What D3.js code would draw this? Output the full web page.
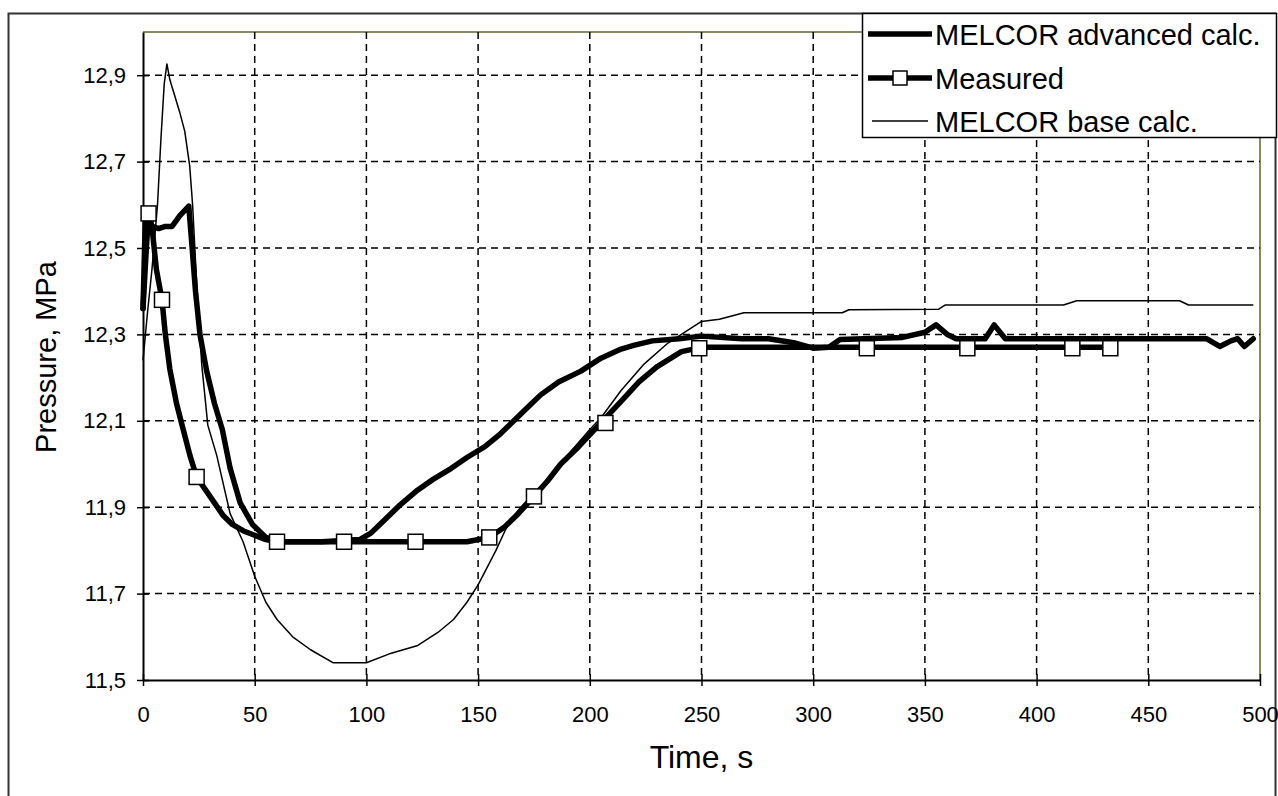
<!DOCTYPE html>
<html>
<head>
<meta charset="utf-8">
<script src="https://cdn.jsdelivr.net/npm/d3@7/dist/d3.min.js"></script>
<style>
    body { margin: 0; background: #ffffff; }
    svg { display: block; }
    text { font-family: "Liberation Sans", Arial, sans-serif; fill: #000; }
</style>
</head>
<body>
<div id="chart"></div>
<script>
// --- data (time in s, pressure in MPa) ---
const timeTicks = [0, 50, 100, 150, 200, 250, 300, 350, 400, 450, 500];
const pressureTicks = [11.5, 11.7, 11.9, 12.1, 12.3, 12.5, 12.7, 12.9];
const seriesNames = ['MELCOR advanced calc.', 'Measured', 'MELCOR base calc.'];

const advancedCalc = [
    [0, 12.36], [1, 12.56], [2.5, 12.57], [4, 12.55], [7, 12.545], [10, 12.55], [13, 12.55],
    [16.5, 12.575], [20.5, 12.597], [22, 12.5], [23.5, 12.4], [25.5, 12.3], [28.5, 12.215],
    [32, 12.14], [35.5, 12.08], [39, 11.99], [43.5, 11.91], [49, 11.86], [55, 11.83],
    [61, 11.82], [80, 11.82], [97, 11.825], [102, 11.84], [108, 11.87], [115, 11.905],
    [123, 11.94], [130, 11.965], [138, 11.99], [145, 12.015], [153, 12.04], [160, 12.07],
    [166, 12.1], [172, 12.13], [178, 12.16], [186, 12.19], [196, 12.215], [205, 12.245],
    [214, 12.266], [220, 12.275], [228, 12.285], [240, 12.29], [250, 12.296], [268, 12.29],
    [280, 12.29], [292, 12.28], [300, 12.268], [307, 12.27], [312, 12.288], [340, 12.293],
    [350, 12.305], [355, 12.322], [360, 12.3], [364, 12.29], [377, 12.29], [381, 12.322],
    [386, 12.29], [476, 12.29], [482, 12.272], [487, 12.285], [490, 12.29], [493, 12.272],
    [497, 12.29]
];

const measured = [
    [0, 12.36], [1.5, 12.5], [2.5, 12.58], [4, 12.55], [6, 12.45], [8.5, 12.38], [10, 12.3],
    [12, 12.22], [15, 12.14], [18, 12.08], [21, 12.02], [24, 11.97], [28, 11.94], [32, 11.91],
    [36, 11.88], [40, 11.86], [45, 11.845], [50, 11.835], [55, 11.825], [60, 11.82],
    [90, 11.82], [122, 11.82], [145, 11.82], [155, 11.83], [162, 11.855], [168, 11.885],
    [175, 11.925], [181, 11.96], [187, 12.0], [195, 12.04], [204, 12.09], [214, 12.145],
    [222, 12.19], [230, 12.225], [241, 12.26], [250, 12.27], [433, 12.27]
];

const measuredMarkers = [
    [2.5, 12.58], [8.5, 12.38], [24, 11.97], [60, 11.82], [90, 11.82], [122, 11.82],
    [155, 11.83], [175, 11.925], [207, 12.095], [249, 12.268], [324, 12.268], [369, 12.268],
    [416, 12.268], [433, 12.268]
];

const baseCalc = [
    [0, 12.24], [2, 12.35], [4, 12.45], [6.5, 12.6], [8, 12.75], [9.5, 12.88], [10.7, 12.926],
    [12, 12.89], [16.4, 12.815], [18.7, 12.77], [20.9, 12.69], [22.2, 12.6], [24, 12.42],
    [26.3, 12.23], [29, 12.09], [33, 12.02], [39, 11.885], [44.8, 11.82], [50, 11.74],
    [55, 11.68], [60, 11.64], [67, 11.6], [75, 11.57], [85, 11.54], [100, 11.54],
    [110, 11.56], [123, 11.58], [132, 11.61], [139, 11.64], [145, 11.68], [150, 11.72],
    [154, 11.76], [158, 11.8], [162, 11.845], [166, 11.88], [170, 11.905], [180, 11.96],
    [190, 12.02], [200, 12.08], [205, 12.107], [214, 12.17], [224, 12.23], [235, 12.28],
    [241, 12.3], [250, 12.33], [258, 12.335], [269, 12.35], [313, 12.35], [316, 12.357],
    [356, 12.358], [359, 12.368], [412, 12.368], [418, 12.378], [464, 12.378], [468, 12.368],
    [497, 12.368]
];

/**
 * Pressure history chart (Excel-style line chart)
 */
class PressureChart {
    constructor(containerSelector) {
        this.width = 1278;
        this.height = 796;
        this.plot = { left: 143, right: 1260, top: 32, bottom: 680 };

        this.svg = d3.select(containerSelector)
            .append('svg')
            .attr('width', this.width)
            .attr('height', this.height);

        this.x = d3.scaleLinear().domain([0, 500]).range([this.plot.left, this.plot.right]);
        this.y = d3.scaleLinear().domain([11.5, 13.0]).range([this.plot.bottom, this.plot.top]);
    }

    render() {
        this.renderFrame();
        this.renderGrid();
        this.renderAxes();
        this.renderSeries();
        this.renderLegend();
    }

    renderFrame() {
        // outer chart border
        this.svg.append('rect')
            .attr('x', 8.5).attr('y', 13.5)
            .attr('width', 1267).attr('height', 800)
            .attr('fill', 'none')
            .attr('stroke', '#333')
            .attr('stroke-width', 2);

        // plot area: top and right edges are olive
        const p = this.plot;
        this.svg.append('path')
            .attr('d', `M${p.left},${p.top}H${p.right}V${p.bottom}`)
            .attr('fill', 'none')
            .attr('stroke', '#8a8a60')
            .attr('stroke-width', 2);
    }

    renderGrid() {
        const g = this.svg.append('g').attr('class', 'grid');
        const dash = '7,5';

        g.selectAll('line.vgrid')
            .data(timeTicks.slice(1, -1))
            .enter().append('line')
            .attr('class', 'vgrid')
            .attr('x1', d => this.x(d)).attr('x2', d => this.x(d))
            .attr('y1', this.plot.top).attr('y2', this.plot.bottom)
            .attr('stroke', '#000').attr('stroke-width', 1.5)
            .attr('stroke-dasharray', dash);

        g.selectAll('line.hgrid')
            .data(pressureTicks.slice(1))
            .enter().append('line')
            .attr('class', 'hgrid')
            .attr('x1', this.plot.left).attr('x2', this.plot.right)
            .attr('y1', d => this.y(d)).attr('y2', d => this.y(d))
            .attr('stroke', '#000').attr('stroke-width', 1.5)
            .attr('stroke-dasharray', dash);
    }

    renderAxes() {
        const fmt = d => d3.format('.1f')(d).replace('.', ',');

        const xAxis = this.svg.append('g')
            .attr('transform', `translate(0,${this.plot.bottom})`)
            .call(d3.axisBottom(this.x).tickValues(timeTicks).tickSizeOuter(0).tickFormat(d3.format('d')));
        xAxis.select('.domain').attr('stroke', '#000').attr('stroke-width', 2);
        xAxis.selectAll('.tick line').attr('y1', -6).attr('y2', 6).attr('stroke-width', 1.5);
        xAxis.selectAll('.tick text')
            .attr('y', 42).attr('dy', 0)
            .style('font-size', '22px')
            .style('font-family', '"Liberation Sans", Arial, sans-serif');

        const yAxis = this.svg.append('g')
            .attr('transform', `translate(${this.plot.left},0)`)
            .call(d3.axisLeft(this.y).tickValues(pressureTicks).tickSizeOuter(0).tickFormat(fmt));
        yAxis.select('.domain').attr('stroke', '#000').attr('stroke-width', 2);
        yAxis.selectAll('.tick line').attr('x1', -6).attr('x2', 6).attr('stroke-width', 1.5);
        yAxis.selectAll('.tick text')
            .attr('x', -17)
            .style('font-size', '22px')
            .style('font-family', '"Liberation Sans", Arial, sans-serif');

        // axis titles
        this.svg.append('text')
            .attr('x', (this.plot.left + this.plot.right) / 2)
            .attr('y', 768)
            .attr('text-anchor', 'middle')
            .attr('font-size', '32px')
            .text('Time, s');

        this.svg.append('text')
            .attr('transform', 'translate(56,357) rotate(-90)')
            .attr('text-anchor', 'middle')
            .attr('font-size', '29px')
            .text('Pressure, MPa');
    }

    renderSeries() {
        const line = d3.line().x(d => this.x(d[0])).y(d => this.y(d[1]));
        const g = this.svg.append('g').attr('class', 'series');

        g.append('path')
            .attr('d', line(baseCalc))
            .attr('fill', 'none').attr('stroke', '#000').attr('stroke-width', 1.5)
            .attr('stroke-linejoin', 'round');

        g.append('path')
            .attr('d', line(advancedCalc))
            .attr('fill', 'none').attr('stroke', '#000').attr('stroke-width', 5.5)
            .attr('stroke-linejoin', 'round').attr('stroke-linecap', 'round');

        g.append('path')
            .attr('d', line(measured))
            .attr('fill', 'none').attr('stroke', '#000').attr('stroke-width', 5.5)
            .attr('stroke-linejoin', 'round').attr('stroke-linecap', 'round');

        const s = 15;
        g.selectAll('rect.marker')
            .data(measuredMarkers)
            .enter().append('rect')
            .attr('class', 'marker')
            .attr('x', d => this.x(d[0]) - s / 2)
            .attr('y', d => this.y(d[1]) - s / 2)
            .attr('width', s).attr('height', s)
            .attr('fill', '#fff').attr('stroke', '#000').attr('stroke-width', 1.5);
    }

    renderLegend() {
        const g = this.svg.append('g').attr('class', 'legend');
        g.append('rect')
            .attr('x', 862.5).attr('y', 13.5)
            .attr('width', 414).attr('height', 124)
            .attr('fill', '#fff').attr('stroke', '#000').attr('stroke-width', 1.5);

        const rows = [34, 78, 121];
        const widths = [5.5, 5.5, 1.5];
        const spans = [[868, 932], [868, 932], [872, 928]];

        seriesNames.forEach((name, i) => {
            g.append('line')
                .attr('x1', spans[i][0]).attr('x2', spans[i][1])
                .attr('y1', rows[i]).attr('y2', rows[i])
                .attr('stroke', '#000').attr('stroke-width', widths[i]);
            if (name === 'Measured') {
                g.append('rect')
                    .attr('x', 893).attr('y', rows[i] - 7)
                    .attr('width', 14).attr('height', 14)
                    .attr('fill', '#fff').attr('stroke', '#000').attr('stroke-width', 1.5);
            }
            g.append('text')
                .attr('x', 935).attr('y', rows[i] + 11)
                .attr('font-size', '29px')
                .text(name);
        });
    }
}

const chart = new PressureChart('#chart');
chart.render();
</script>
</body>
</html>
